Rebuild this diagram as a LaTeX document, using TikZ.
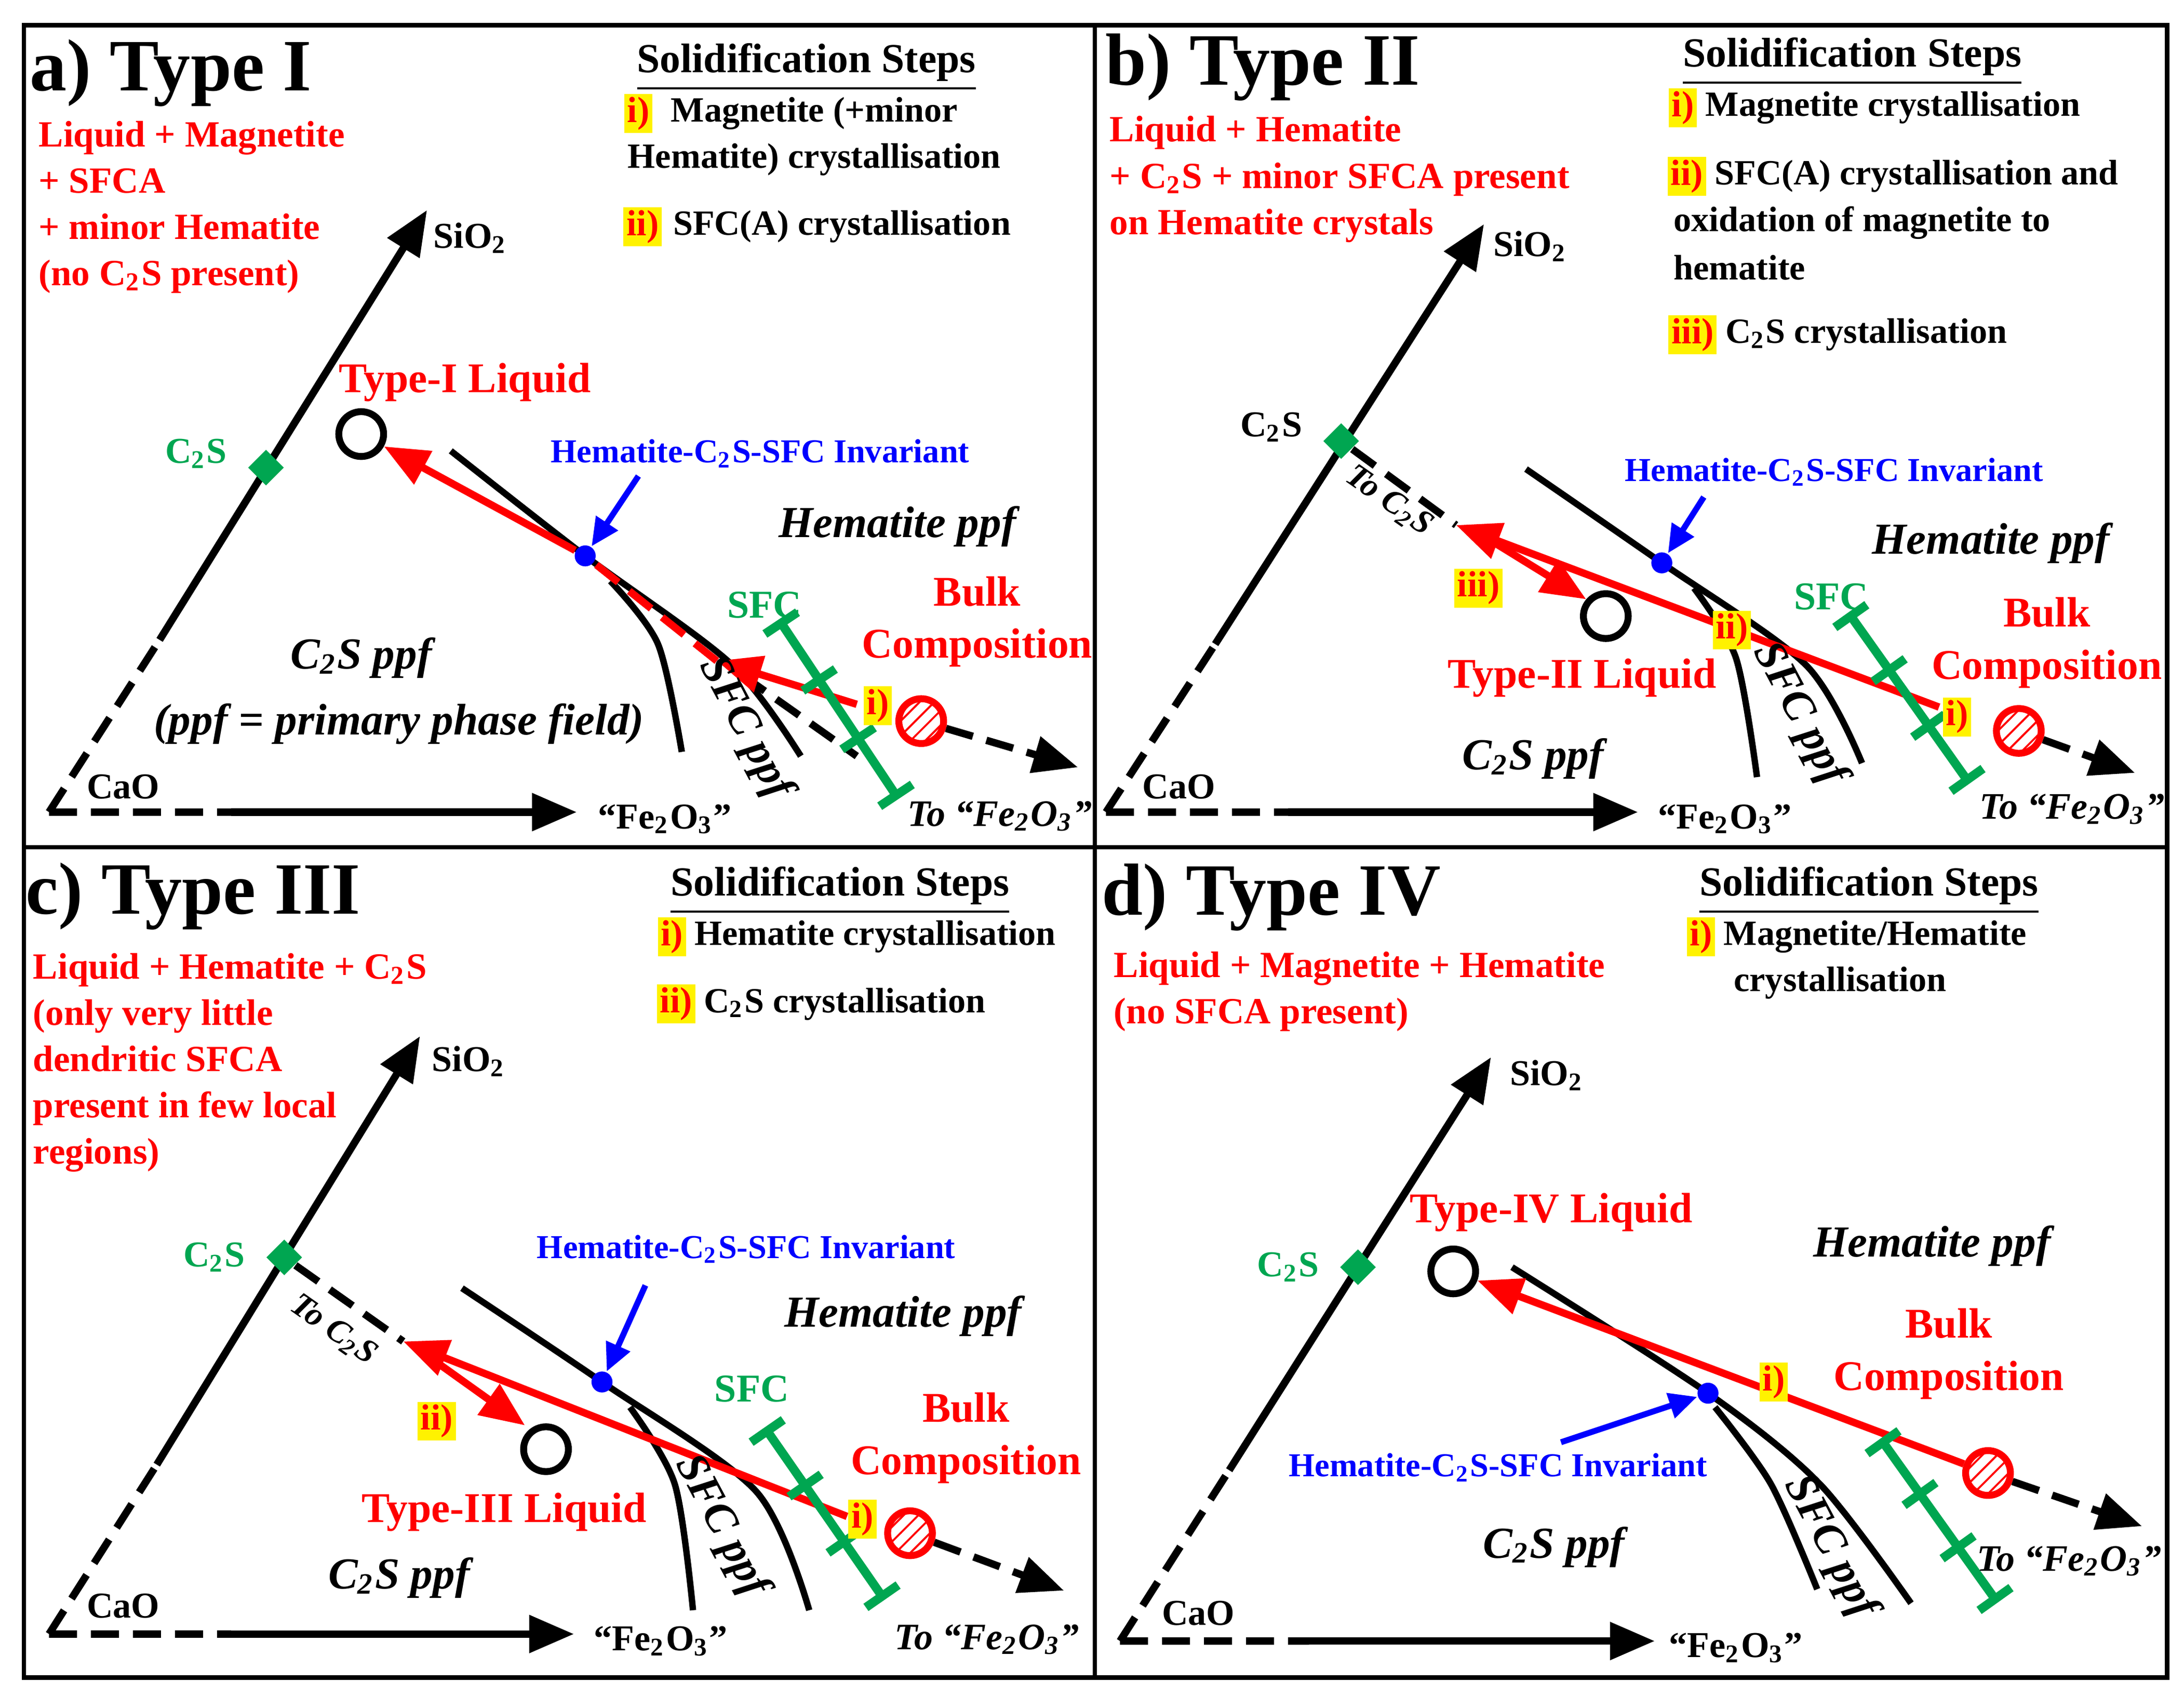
\documentclass[tikz,border=0pt]{standalone}
\usepackage{fontspec}
\setmainfont{Liberation Serif}
\usetikzlibrary{arrows.meta,calc,positioning,shapes.geometric,patterns}
\definecolor{sgreen}{RGB}{0,166,81}
\newcommand\sub[1]{\textsubscript{#1}}
% green SFC bar with ticks
\newcommand\sfcbar[2]{%
	\coordinate (#1-p) at ($(#1)!1.4mm!90:(#2)$);
	\coordinate (#1-q) at ($(#1)!1.4mm!-90:(#2)$);
	\coordinate (#2-p) at ($(#2)!1.4mm!-90:(#1)$);
	\coordinate (#2-q) at ($(#2)!1.4mm!90:(#1)$);
	\draw [bar] (#1) -- (#2);
	\foreach \t in {0,0.33,0.67,1}
		\draw [bar] ($(#1-p)!\t!(#2-p)$) -- ($(#1-q)!\t!(#2-q)$);}
\begin{document}
\begin{tikzpicture}[x=0.1mm, y=-0.1mm, font=\bfseries,
		ax/.style = {line width=1.5pt, -{Triangle[length=3.2mm,width=2.6mm]}},
		dax/.style = {line width=1.5pt, dash pattern=on 2mm off 1mm},
		bnd/.style = {line width=1.3pt},
		redp/.style = {line width=1.5pt, red, -{Triangle[length=3.2mm,width=2.6mm]}},
		bar/.style = {line width=1.8pt, sgreen},
		title/.style = {font=\bfseries\fontsize{15}{17}\selectfont},
		rtxt/.style = {text=red, font=\bfseries\fontsize{7.5}{9.4}\selectfont, align=left, anchor=west, inner sep=0pt},
		stxt/.style = {font=\bfseries\fontsize{7.2}{9.4}\selectfont, align=left, anchor=west, inner sep=0.5pt},
		shead/.style = {font=\bfseries\fontsize{8.4}{9}\selectfont, inner sep=1pt},
		sbox/.style = {fill=yellow, text=red, inner sep=0.6pt, font=\bfseries\fontsize{7.4}{9}\selectfont},
		lab/.style = {font=\bfseries\fontsize{7.4}{8}\selectfont, inner sep=1pt},
		ppf/.style = {font=\bfseries\itshape\fontsize{9}{10}\selectfont, inner sep=1pt},
		inv/.style = {text=blue, font=\bfseries\fontsize{6.8}{8}\selectfont, inner sep=1pt},
		big/.style = {text=red, font=\bfseries\fontsize{8.6}{10.6}\selectfont, align=center},
		ipt/.style = {circle, fill=blue, inner sep=0pt, minimum size=1.5mm},
		liq/.style = {circle, draw, line width=1.4pt, inner sep=0pt, minimum size=3.2mm},
		blk/.style = {circle, draw=red, line width=1.4pt, inner sep=0pt, minimum size=3.2mm,
									pattern=north east lines, pattern color=red},
		cts/.style = {diamond, fill=sgreen, inner sep=0pt, minimum size=2.6mm}]
\useasboundingbox (0,0) rectangle (1560,1211);

% frames
\draw [line width=0.9pt] (17,18) rectangle (1548,1198);
\draw [line width=0.9pt] (782,18) -- (782,1198) (17,605) -- (1548,605);

%% a) Type I
\node [title] (a-t) at (122,52) {a) Type I};
\node [rtxt] (a-r) at (27,148) {Liquid + Magnetite\\+ SFCA\\+ minor Hematite\\(no C\sub{2}S present)};
\node [shead] (a-s) at (576,48) {\underline{Solidification Steps}};
\node [sbox] (a-s1) at (456,81) {i)};
\node [stxt, right=1mm of a-s1] {Magnetite (+minor};
\node [stxt] at (446,114) {Hematite) crystallisation};
\node [sbox] (a-s2) at (459,162) {ii)};
\node [stxt, right=0.5mm of a-s2] {SFC(A) crystallisation};
\coordinate (a-o) at (35,580);
\coordinate (a-m) at (114,457);
\coordinate (a-n) at (165,580);
\coordinate (a-y) at (305,150);
\coordinate (a-x) at (412,580);
\draw [dax] (a-o) -- (a-m) (a-o) -- (a-n);
\draw [ax] (a-m) -- (a-y);
\draw [ax] (a-n) -- (a-x);
\node [lab] at (88,562) {CaO};
\node [lab] at (336,170) {SiO\sub{2}};
\node [lab] at (475,585) {“Fe\sub{2}O\sub{3}”};
\node [cts] (a-c) at (190,334) {};
\node [lab, text=sgreen, left=1mm of a-c, yshift=1mm] {C\sub{2}S};
\draw [bnd] plot[smooth] coordinates {(322,322) (418,397) (522,474) (572,540)};
\draw [bnd] plot[smooth] coordinates {(436,415) (470,460) (487,537)};
\draw [dax] (530,482) -- (612,540);
\node [liq] (a-l) at (258,310) {};
\node [big] at (332,273) {Type-I Liquid};
\node [ipt] (a-i) at (418,397) {};
\draw [redp] (612,503) -- (512,472);
\draw [line width=1.5pt, red, dash pattern=on 2mm off 1mm] (512,472) -- (a-i);
\draw [redp] (a-i) -- (a-l);
\draw [line width=1.2pt, blue, -{Triangle[length=2mm,width=1.8mm]}] (456,340) -- (a-i);
\node [inv] at (543,324) {Hematite-C\sub{2}S-SFC Invariant};
\node [ppf] at (641,376) {Hematite ppf};
\node [ppf] at (258,470) {C\sub{2}S ppf};
\node [ppf] at (285,517) {(ppf = primary phase field)};
\node [ppf, rotate=-62] at (532,520) {SFC ppf};
\coordinate (a-g1) at (558,445);
\coordinate (a-g2) at (640,568);
\sfcbar{a-g1}{a-g2}
\node [lab, text=sgreen, font=\bfseries\fontsize{8}{9}\selectfont] at (546,432) {SFC};
\node [big] at (698,444) {Bulk\\Composition};
\node [blk] (a-b) at (658,515) {};
\draw [dax, -{Triangle[length=3.2mm,width=2.6mm]}] (a-b) -- (770,548);
\node [sbox] at (627,504) {i)};
\node [ppf, font=\bfseries\itshape\fontsize{7.6}{9}\selectfont] at (714,583) {To “Fe\sub{2}O\sub{3}”};

%% b) Type II
\node [title] (b-t) at (902,48) {b) Type II};
\node [rtxt] (b-r) at (792,128) {Liquid + Hematite\\+ C\sub{2}S + minor SFCA present\\on Hematite crystals};
\node [shead] (b-s) at (1323,44) {\underline{Solidification Steps}};
\node [sbox] (b-s1) at (1202,77) {i)};
\node [stxt, right=0.3mm of b-s1] {Magnetite crystallisation};
\node [sbox] (b-s2) at (1205,126) {ii)};
\node [stxt, right=0.3mm of b-s2] {SFC(A) crystallisation and};
\node [stxt] at (1193,159) {oxidation of magnetite to};
\node [stxt] at (1193,191) {hematite};
\node [sbox] (b-s3) at (1209,239) {iii)};
\node [stxt, right=0.3mm of b-s3] {C\sub{2}S crystallisation};
\coordinate (b-o) at (790,580);
\coordinate (b-m) at (868,460);
\coordinate (b-n) at (920,580);
\coordinate (b-y) at (1060,160);
\coordinate (b-x) at (1170,580);
\draw [dax] (b-o) -- (b-m) (b-o) -- (b-n);
\draw [ax] (b-m) -- (b-y);
\draw [ax] (b-n) -- (b-x);
\node [lab] at (842,562) {CaO};
\node [lab] at (1093,176) {SiO\sub{2}};
\node [lab] at (1232,585) {“Fe\sub{2}O\sub{3}”};
\node [cts] (b-c) at (958,315) {};
\node [lab, left=1mm of b-c, yshift=1mm] {C\sub{2}S};
\draw [dax] (b-c) -- (1040,375);
\node [lab, font=\bfseries\itshape\fontsize{6.8}{8}\selectfont, rotate=-35] at (992,358) {To C\sub{2}S};
\draw [bnd] plot[smooth] coordinates {(1090,335) (1187,402) (1290,475) (1330,545)};
\draw [bnd] plot[smooth] coordinates {(1210,420) (1240,470) (1255,555)};
\node [ipt] (b-i) at (1187,402) {};
\draw [line width=1.2pt, blue, -{Triangle[length=2mm,width=1.8mm]}] (1217,355) -- (b-i);
\node [inv] at (1310,337) {Hematite-C\sub{2}S-SFC Invariant};
\node [liq] (b-l) at (1147,440) {};
\draw [redp] (1385,505) -- (1040,375);
\draw [redp] (1060,383) -- (1133,428);
\node [big] at (1130,484) {Type-II Liquid};
\node [ppf] at (1422,388) {Hematite ppf};
\node [ppf] at (1095,542) {C\sub{2}S ppf};
\node [ppf, rotate=-62] at (1285,510) {SFC ppf};
\coordinate (b-g1) at (1322,440);
\coordinate (b-g2) at (1405,557);
\sfcbar{b-g1}{b-g2}
\node [lab, text=sgreen, font=\bfseries\fontsize{8}{9}\selectfont] at (1308,426) {SFC};
\node [big] at (1462,459) {Bulk\\Composition};
\node [blk] (b-b) at (1442,522) {};
\draw [dax, -{Triangle[length=3.2mm,width=2.6mm]}] (b-b) -- (1525,552);
\node [sbox] at (1056,420) {iii)};
\node [sbox] at (1237,450) {ii)};
\node [sbox] at (1398,512) {i)};
\node [ppf, font=\bfseries\itshape\fontsize{7.6}{9}\selectfont] at (1480,578) {To “Fe\sub{2}O\sub{3}”};

%% c) Type III
\node [title] (c-t) at (138,640) {c) Type III};
\node [rtxt] (c-r) at (23,759) {Liquid + Hematite + C\sub{2}S\\(only very little\\dendritic SFCA\\present in few local\\regions)};
\node [shead] (c-s) at (600,636) {\underline{Solidification Steps}};
\node [sbox] (c-s1) at (480,669) {i)};
\node [stxt, right=0.3mm of c-s1] {Hematite crystallisation};
\node [sbox] (c-s2) at (483,717) {ii)};
\node [stxt, right=0.3mm of c-s2] {C\sub{2}S crystallisation};
\coordinate (c-o) at (35,1167);
\coordinate (c-m) at (112,1046);
\coordinate (c-n) at (165,1167);
\coordinate (c-y) at (300,740);
\coordinate (c-x) at (410,1167);
\draw [dax] (c-o) -- (c-m) (c-o) -- (c-n);
\draw [ax] (c-m) -- (c-y);
\draw [ax] (c-n) -- (c-x);
\node [lab] at (88,1147) {CaO};
\node [lab] at (335,758) {SiO\sub{2}};
\node [lab] at (472,1172) {“Fe\sub{2}O\sub{3}”};
\node [cts] (c-c) at (203,898) {};
\node [lab, text=sgreen, left=1mm of c-c] {C\sub{2}S};
\draw [dax] (c-c) -- (288,958);
\node [lab, font=\bfseries\itshape\fontsize{6.8}{8}\selectfont, rotate=-35] at (238,950) {To C\sub{2}S};
\draw [bnd] plot[smooth] coordinates {(330,920) (430,987) (540,1065) (578,1150)};
\draw [bnd] plot[smooth] coordinates {(450,1005) (482,1060) (495,1150)};
\node [ipt] (c-i) at (430,987) {};
\draw [line width=1.2pt, blue, -{Triangle[length=2mm,width=1.8mm]}] (461,918) -- (c-i);
\node [inv] at (533,892) {Hematite-C\sub{2}S-SFC Invariant};
\node [liq] (c-l) at (390,1035) {};
\draw [redp] (605,1083) -- (288,958);
\draw [redp] (305,968) -- (375,1018);
\node [big] at (360,1080) {Type-III Liquid};
\node [ppf] at (645,940) {Hematite ppf};
\node [ppf] at (285,1127) {C\sub{2}S ppf};
\node [ppf, rotate=-62] at (515,1090) {SFC ppf};
\coordinate (c-g1) at (548,1022);
\coordinate (c-g2) at (630,1140);
\sfcbar{c-g1}{c-g2}
\node [lab, text=sgreen, font=\bfseries\fontsize{8}{9}\selectfont] at (537,992) {SFC};
\node [big] at (690,1027) {Bulk\\Composition};
\node [blk] (c-b) at (650,1095) {};
\draw [dax, -{Triangle[length=3.2mm,width=2.6mm]}] (c-b) -- (760,1136);
\node [sbox] at (312,1015) {ii)};
\node [sbox] at (616,1085) {i)};
\node [ppf, font=\bfseries\itshape\fontsize{7.6}{9}\selectfont] at (705,1171) {To “Fe\sub{2}O\sub{3}”};

%% d) Type IV
\node [title] (d-t) at (908,641) {d) Type IV};
\node [rtxt] (d-r) at (795,708) {Liquid + Magnetite + Hematite\\(no SFCA present)};
\node [shead] (d-s) at (1335,636) {\underline{Solidification Steps}};
\node [sbox] (d-s1) at (1215,669) {i)};
\node [stxt, right=0.3mm of d-s1] {Magnetite/Hematite};
\node [stxt] at (1236,702) {crystallisation};
\coordinate (d-o) at (800,1172);
\coordinate (d-m) at (878,1050);
\coordinate (d-n) at (935,1172);
\coordinate (d-y) at (1065,755);
\coordinate (d-x) at (1182,1172);
\draw [dax] (d-o) -- (d-m) (d-o) -- (d-n);
\draw [ax] (d-m) -- (d-y);
\draw [ax] (d-n) -- (d-x);
\node [lab] at (856,1152) {CaO};
\node [lab] at (1105,768) {SiO\sub{2}};
\node [lab] at (1240,1177) {“Fe\sub{2}O\sub{3}”};
\node [cts] (d-c) at (970,905) {};
\node [lab, text=sgreen, left=1mm of d-c] {C\sub{2}S};
\draw [bnd] plot[smooth] coordinates {(1080,905) (1220,995) (1300,1060) (1365,1145)};
\draw [bnd] plot[smooth] coordinates {(1225,1005) (1265,1060) (1298,1135)};
\node [liq] (d-l) at (1038,908) {};
\node [big] at (1108,866) {Type-IV Liquid};
\node [blk] (d-b) at (1420,1052) {};
\draw [redp] (d-b) -- (d-l);
\node [ipt] (d-i) at (1220,995) {};
\draw [line width=1.2pt, blue, -{Triangle[length=2mm,width=1.8mm]}] (1115,1030) -- (d-i);
\node [inv] at (1070,1048) {Hematite-C\sub{2}S-SFC Invariant};
\node [ppf] at (1380,890) {Hematite ppf};
\node [ppf] at (1110,1105) {C\sub{2}S ppf};
\node [ppf, rotate=-62] at (1307,1105) {SFC ppf};
\coordinate (d-g1) at (1345,1030);
\coordinate (d-g2) at (1425,1142);
\sfcbar{d-g1}{d-g2}
\node [big] at (1392,967) {Bulk\\Composition};
\draw [dax, -{Triangle[length=3.2mm,width=2.6mm]}] (d-b) -- (1530,1090);
\node [sbox] at (1267,987) {i)};
\node [ppf, font=\bfseries\itshape\fontsize{7.6}{9}\selectfont] at (1478,1115) {To “Fe\sub{2}O\sub{3}”};
\end{tikzpicture}
\end{document}
